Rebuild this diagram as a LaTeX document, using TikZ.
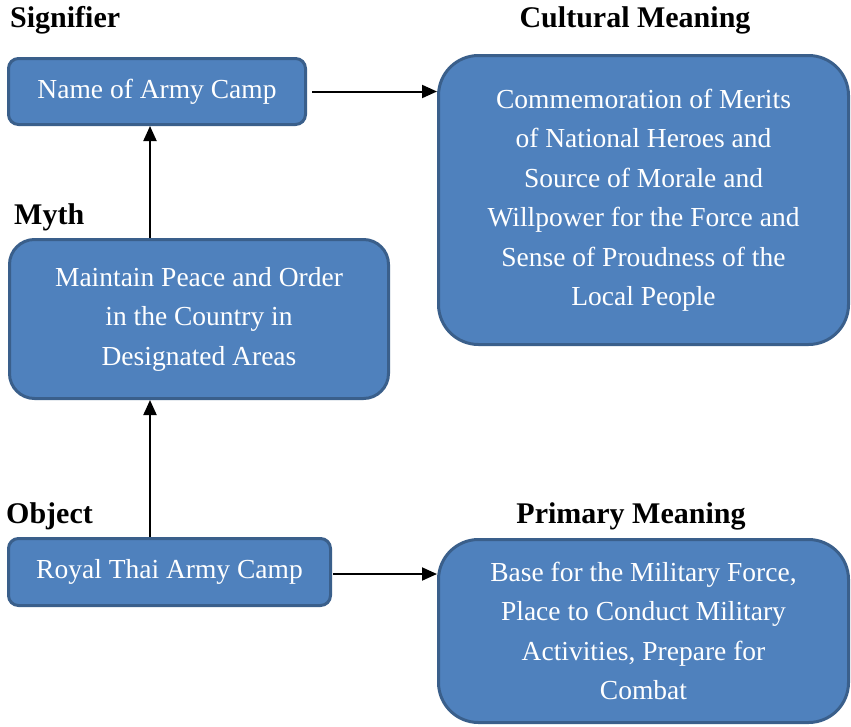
\documentclass[tikz,border=0pt]{standalone}
\usepackage{fontspec}
\setmainfont{Liberation Serif}
\usetikzlibrary{arrows.meta}
\definecolor{boxfill}{HTML}{4F81BD}
\definecolor{boxline}{HTML}{3A5F8B}
\begin{document}
\begin{tikzpicture}[x=1pt, y=-1pt,
    box/.style={draw=boxline, fill=boxfill, line width=3pt, text=white, align=center,
        font=\fontsize{27.5}{39.5}\selectfont, inner sep=0pt},
    tag/.style={font=\fontsize{30}{34}\selectfont\bfseries, inner sep=0pt},
    link/.style={line width=2pt, -{Triangle[length=15pt, width=13pt]}}]
    % --- page size ---
    \useasboundingbox (0, 0) rectangle (851, 726);

    % --- boxes ---
    \node[box, rounded corners=10pt, minimum width=297pt, minimum height=66pt]
        (name) at (157, 91.5) {Name of Army Camp};
    \node[box, rounded corners=40pt, minimum width=410pt, minimum height=289pt]
        (culture) at (643.5, 200) {Commemoration of Merits\\of National Heroes and\\Source of Morale and\\Willpower for the Force and\\Sense of Proudness of the\\Local People};
    \node[box, rounded corners=25pt, minimum width=379pt, minimum height=159pt]
        (myth) at (199, 319) {Maintain Peace and Order\\in the Country in\\Designated Areas};
    \node[box, rounded corners=10pt, minimum width=322pt, minimum height=67pt]
        (camp) at (169.5, 572) {Royal Thai Army Camp};
    \node[box, rounded corners=40pt, minimum width=410pt, minimum height=183pt]
        (primary) at (643.5, 631) {Base for the Military Force,\\Place to Conduct Military\\Activities, Prepare for\\Combat};

    % --- headings ---
    \node[tag, anchor=base west] (signtag) at (10, 27) {Signifier};
    \node[tag, anchor=base] (culttag) at (635, 27) {Cultural Meaning};
    \node[tag, anchor=base west] (mythtag) at (14, 224) {Myth};
    \node[tag, anchor=base west] (objtag) at (6, 523) {Object};
    \node[tag, anchor=base] (primtag) at (631, 523) {Primary Meaning};

    % --- arrows ---
    \coordinate (upx) at (150, 0);
    \draw[link] (upx |- myth.north) -- (upx |- name.south);
    \draw[link] (upx |- camp.north) -- (upx |- myth.south);
    \draw[link] ([xshift=5pt]name.east) -- (culture.west |- name.east);
    \draw[link] ([xshift=1pt, yshift=-2pt]camp.east) -- ([yshift=-2pt]primary.west |- camp.east);
\end{tikzpicture}
\end{document}
